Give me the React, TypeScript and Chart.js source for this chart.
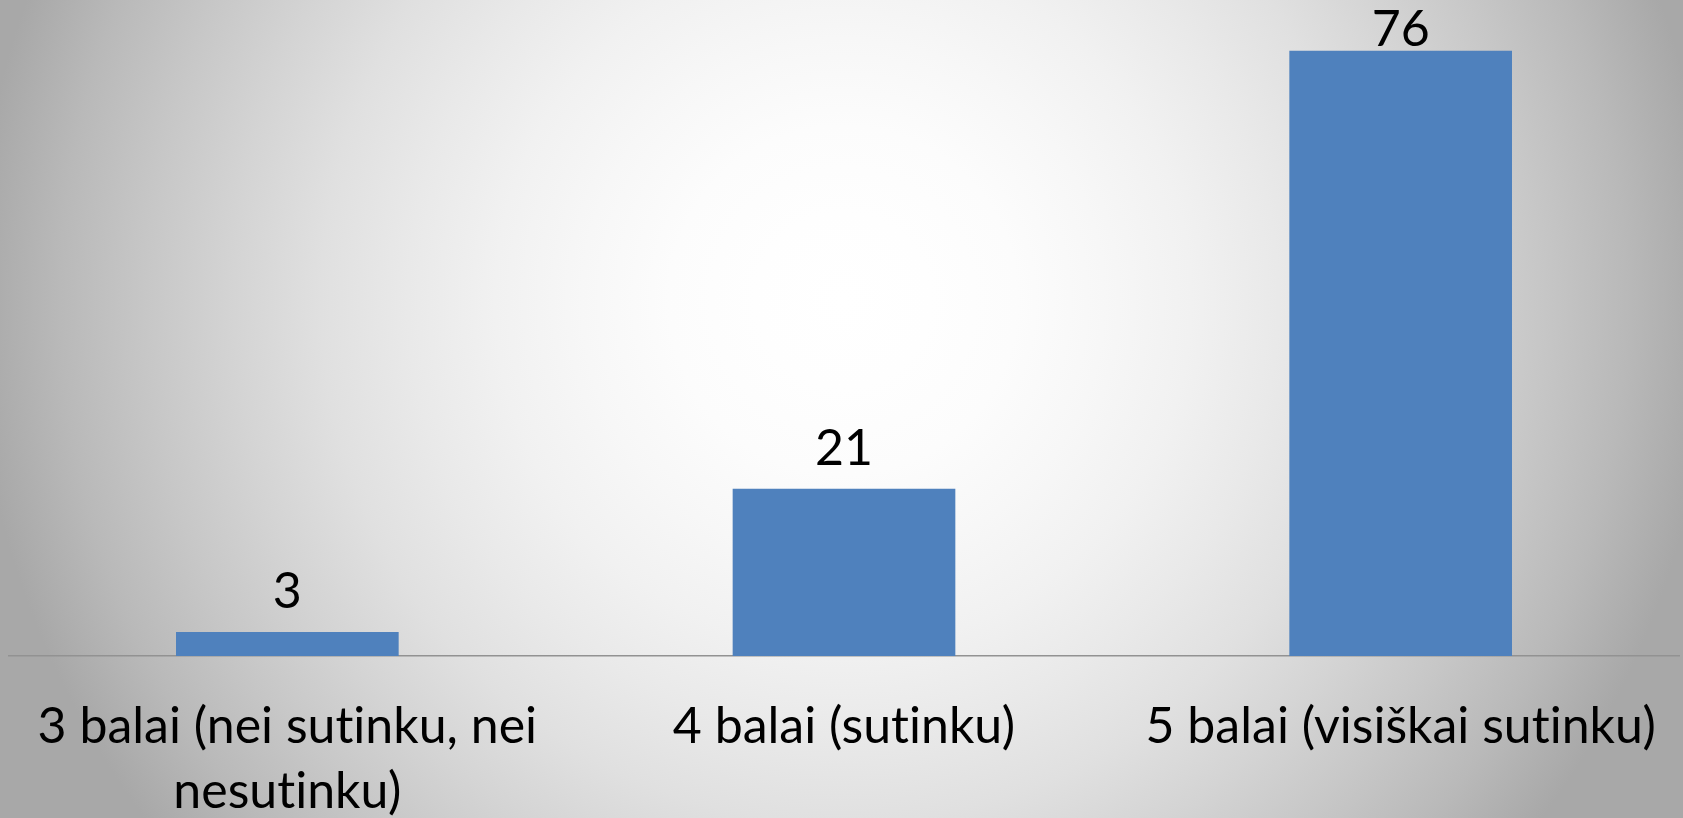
import React, { useEffect, useRef } from "react";
import { Chart, registerables } from "chart.js";

Chart.register(...registerables);

const categories: (string | string[])[] = [
  ["3 balai (nei sutinku, nei", "nesutinku)"],
  "4 balai (sutinku)",
  "5 balai (visiškai sutinku)",
];
const values: number[] = [3, 21, 76];
const yMin = 0;
const yMax = 80;

const FONT = "Lato, 'Open Sans', sans-serif";
const FONT_SIZE = 50;

const bgPlugin = {
  id: "radialBg",
  beforeDraw(chart: any) {
    const { ctx, width, height } = chart;
    const cx = width * 0.501;
    const cy = height * 0.367;
    const r = 870;
    const g = ctx.createRadialGradient(cx, cy, 0, cx, cy, r);
    for (let i = 0; i <= 10; i++) {
      const f = i / 10;
      const c = Math.round(255 - 87 * f * f);
      g.addColorStop(f, `rgb(${c},${c},${c})`);
    }
    ctx.save();
    ctx.fillStyle = g;
    ctx.fillRect(0, 0, width, height);
    ctx.restore();
    try {
      (ctx as any).letterSpacing = "0.01px";
    } catch (e) {}
  },
};

const labelPlugin = {
  id: "dataLabels",
  afterDatasetsDraw(chart: any) {
    const { ctx, chartArea } = chart;
    const meta = chart.getDatasetMeta(0);
    const ds = chart.data.datasets[0];
    ctx.save();
    ctx.font = `${FONT_SIZE}px ${FONT}`;
    ctx.fillStyle = "#000000";
    ctx.textAlign = "center";
    ctx.textBaseline = "alphabetic";
    meta.data.forEach((bar: any, i: number) => {
      const y = Math.max(bar.y - 24, chartArea.top + 27);
      ctx.fillText(String(ds.data[i]), bar.x, y);
    });
    ctx.restore();
  },
};

export default function App() {
  const ref = useRef<HTMLCanvasElement | null>(null);
  useEffect(() => {
    if (!ref.current) return;
    const chart = new Chart(ref.current, {
      type: "bar",
      data: {
        labels: categories,
        datasets: [
          {
            data: values,
            backgroundColor: "#4F81BD",
            borderWidth: 0,
            categoryPercentage: 1,
            barPercentage: 0.4,
          },
        ],
      },
      options: {
        animation: false,
        responsive: false,
        layout: { padding: { top: 19, left: 9, right: 4, bottom: 0 } },
        plugins: {
          legend: { display: false },
          tooltip: { enabled: false },
        },
        scales: {
          x: {
            grid: { display: false, drawTicks: false },
            border: { display: true, color: "#929292", width: 1.5 },
            ticks: {
              color: "#000000",
              font: { family: FONT, size: FONT_SIZE, lineHeight: 1.3 },
              padding: 38,
              maxRotation: 0,
              autoSkip: false,
            },
            afterFit: (scale: any) => {
              scale.height = 162;
              scale.paddingLeft = 0;
              scale.paddingRight = 0;
            },
          },
          y: {
            display: false,
            min: yMin,
            max: yMax,
          },
        },
      },
      plugins: [bgPlugin, labelPlugin],
    });
    return () => chart.destroy();
  }, []);
  return (
    <div style={{ position: "absolute", left: 0, top: 0, width: 1683, height: 818 }}>
      <canvas ref={ref} width={1683} height={818} />
    </div>
  );
}
